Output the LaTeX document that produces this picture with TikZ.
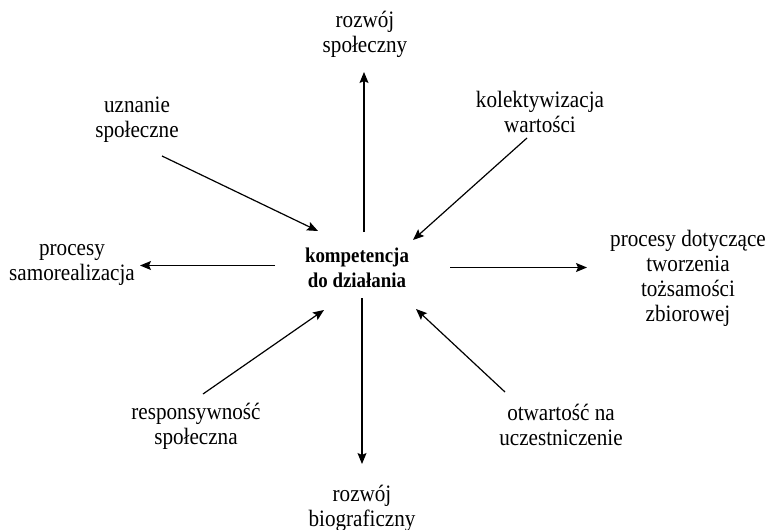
\documentclass[tikz,border=0pt]{standalone}
\usepackage{fontspec}
\setmainfont{Liberation Serif}[FakeStretch=0.9]
\usetikzlibrary{arrows.meta}
\begin{document}
\begin{tikzpicture}[x=1pt,y=-1pt,
  lbl/.style={align=center,inner sep=0pt,font=\fontsize{23.5}{25}\selectfont},
  ctr/.style={lbl,font=\fontsize{21}{25}\selectfont\bfseries},
  arr/.style={line width=1.2pt,-{Stealth[length=11pt,width=9pt,inset=2pt]}}]
\useasboundingbox (0,0) rectangle (766,530);
\node[ctr] (k) at (357,268) {kompetencja\\do działania};
\node[lbl] (rs) at (365,34) {rozwój\\społeczny};
\node[lbl] (us) at (137,120) {uznanie\\społeczne};
\node[lbl] (kw) at (540,112) {kolektywizacja\\wartości};
\node[lbl] (ps) at (72,265) {procesy\\samorealizacja};
\node[lbl] (pd) at (688,278) {procesy dotyczące\\tworzenia\\tożsamości\\zbiorowej};
\node[lbl] (rsp) at (196,426) {responsywność\\społeczna};
\node[lbl] (ot) at (561,425) {otwartość na\\uczestniczenie};
\node[lbl] (rb) at (362,508) {rozwój\\biograficzny};
% connector end points
\coordinate (k-n) at (364,232);
\coordinate (rs-s) at (364,72);
\coordinate (us-e) at (162,156);
\coordinate (k-nw) at (318,231);
\coordinate (kw-s) at (527,138);
\coordinate (k-ne) at (413,240);
\coordinate (k-w) at (275,265.5);
\coordinate (ps-e) at (140,265.5);
\coordinate (k-e) at (450,267.5);
\coordinate (pd-w) at (587,267.5);
\coordinate (rsp-n) at (203,394);
\coordinate (k-sw) at (324,310);
\coordinate (ot-n) at (505,392);
\coordinate (k-se) at (416,309);
\coordinate (k-s) at (362,298);
\coordinate (rb-n) at (362,464);
\draw[arr] (k-n) -- (rs-s);
\draw[arr] (us-e) -- (k-nw);
\draw[arr] (kw-s) -- (k-ne);
\draw[arr] (k-w) -- (ps-e);
\draw[arr] (k-e) -- (pd-w);
\draw[arr] (rsp-n) -- (k-sw);
\draw[arr] (ot-n) -- (k-se);
\draw[arr] (k-s) -- (rb-n);
\end{tikzpicture}
\end{document}
